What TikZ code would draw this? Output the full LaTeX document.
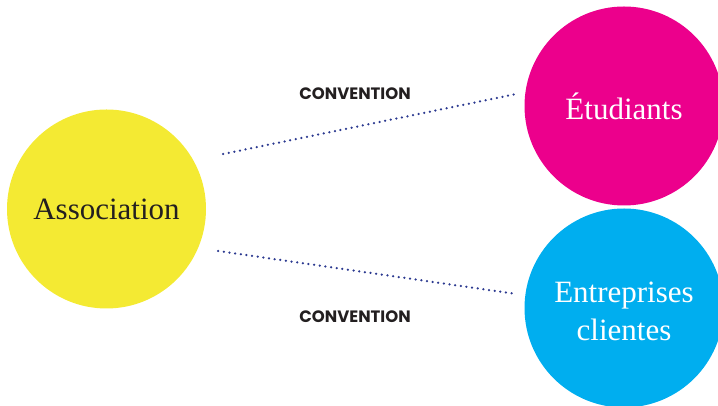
\documentclass[tikz,border=0pt]{standalone}
\usepackage{fontspec}
\setmainfont{Liberation Serif}
\newfontfamily\conventionfont{Poppins}
\definecolor{assocyellow}{HTML}{F4EA33}
\definecolor{etudpink}{HTML}{EC008C}
\definecolor{entrblue}{HTML}{00AEEF}
\definecolor{liennavy}{HTML}{2B3990}
\definecolor{textdark}{HTML}{231F20}

\begin{document}
\begin{tikzpicture}[x=1pt,y=1pt,
    bulle/.style={circle, inner sep=0pt, minimum size=199pt, align=center,
                  font=\fontsize{31}{38}\selectfont},
    lien/.style={draw=liennavy, line width=2.5pt, line cap=round,
                 dash pattern=on 0pt off 5.7pt},
    etiquette/.style={font=\conventionfont\bfseries\fontsize{16.5}{18}\selectfont,
                      text=textdark}]
                    \useasboundingbox (0, 0) rectangle (718, 406);
                    \node[bulle, fill=assocyellow, text=textdark] (assoc) at (106.5, 197) {Association};
                    \node[bulle, fill=etudpink, text=white] (etud) at (624, 300) {Étudiants};
                    \node[bulle, fill=entrblue, text=white] (entr) at (624, 98)
                        {\raisebox{-6pt}[\height][\depth]{\begin{tabular}{@{}c@{}}Entreprises\\clientes\end{tabular}}};
                    \coordinate (a1) at ([shift={(17, 55)}]assoc.east);
                    \coordinate (a2) at ([shift={(12, -42)}]assoc.east);
                    \coordinate (e1) at ([shift={(-8, 12)}]etud.west);
                    \coordinate (e2) at ([shift={(-8, 14)}]entr.west);
                    \draw[lien] (a1) -- (e1);
                    \draw[lien] (a2) -- (e2);
                    \node[etiquette] (conv1) at (355, 312) {CONVENTION};
                    \node[etiquette] (conv2) at (355, 89) {CONVENTION};
                \end{tikzpicture}
\end{document}
